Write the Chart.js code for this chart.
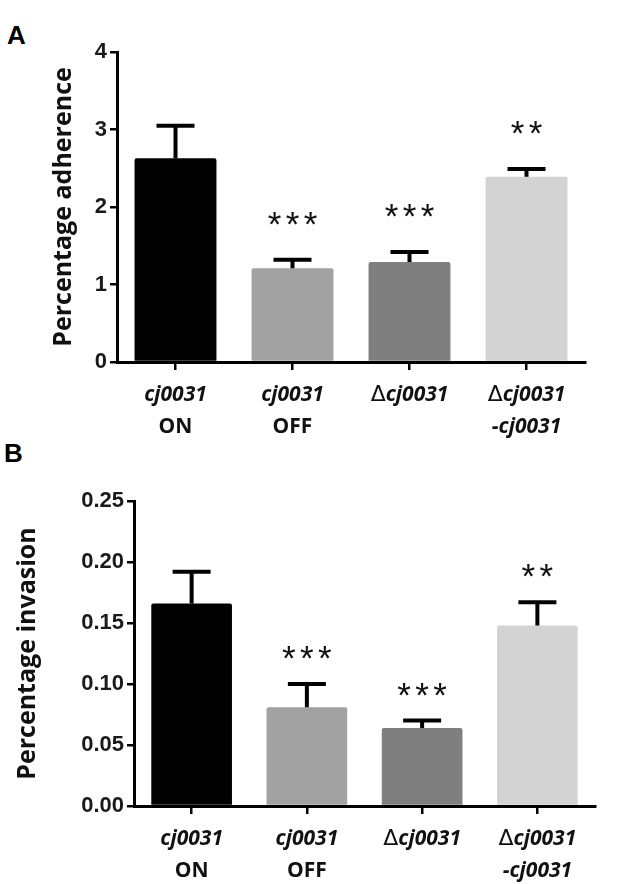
<!DOCTYPE html>
<html><head><meta charset="utf-8">
<script src="https://cdn.jsdelivr.net/npm/chart.js@4.4.1/dist/chart.umd.min.js"></script>
<style>
html,body{margin:0;padding:0;background:#fff;width:622px;height:884px;overflow:hidden;}
.wrap{position:absolute;left:0;width:622px;}
.letter{position:absolute;font:bold 26px 'Liberation Sans',Arial,sans-serif;color:#000;line-height:1;}
canvas{display:block;}
</style></head><body>
<div class="letter" style="left:7px;top:22px">A</div>
<div class="letter" style="left:4px;top:440px">B</div>
<div class="wrap" style="top:0;height:440px"><canvas id="cA" width="622" height="440" style="width:622px;height:440px"></canvas></div>
<div class="wrap" style="top:440px;height:444px"><canvas id="cB" width="622" height="444" style="width:622px;height:444px"></canvas></div>
<script>
// ---- data ----
const categories = ['cj0031 ON', 'cj0031 OFF', 'Δcj0031', 'Δcj0031 -cj0031'];
const labelLine1 = ['cj0031', 'cj0031', 'Δcj0031', 'Δcj0031'];
const labelLine2 = ['ON', 'OFF', '', '-cj0031'];
const adherenceMean = [2.63, 1.21, 1.29, 2.39];
const adherenceSEM = [0.42, 0.11, 0.13, 0.10];
const adherenceStars = ['', '***', '***', '**'];
const adherenceTicks = [0, 1, 2, 3, 4];
const invasionMean = [0.166, 0.081, 0.064, 0.148];
const invasionSEM = [0.026, 0.019, 0.006, 0.019];
const invasionStars = ['', '***', '***', '**'];
const invasionTicks = [0, 0.05, 0.10, 0.15, 0.20, 0.25];
const barColors = ['#000000', '#a2a2a2', '#7f7f7f', '#d3d3d3'];

const LABEL_FONT = "'Open Sans', 'Liberation Sans', sans-serif";

function drawSegLine(ctx, text, cx, baseline) {
  if (!text) return;
  const segs = [];
  let rest = text;
  if (rest.startsWith('Δ')) {
    segs.push({t: 'Δ', f: "normal 22px 'DejaVu Sans', sans-serif"});
    rest = rest.slice(1);
  }
  const italic = rest.indexOf('cj') >= 0;
  segs.push({t: rest, f: (italic ? 'italic ' : '') + 'bold 21px ' + LABEL_FONT});
  let total = 0;
  segs.forEach(s => { ctx.font = s.f; s.w = ctx.measureText(s.t).width; total += s.w; });
  let x = cx - total / 2;
  ctx.textAlign = 'left';
  ctx.textBaseline = 'alphabetic';
  segs.forEach(s => { ctx.font = s.f; ctx.fillText(s.t, x, baseline); x += s.w; });
}

function makeAnnot(means, sems, stars, starGap) {
  return {
    id: 'annot',
    afterDatasetsDraw(chart) {
      const ctx = chart.ctx, xs = chart.scales.x, ys = chart.scales.y;
      ctx.save();
      ctx.strokeStyle = '#000';
      ctx.lineWidth = 4;
      ctx.lineCap = 'butt';
      means.forEach((m, i) => {
        const cx = xs.getPixelForValue(i);
        const yBar = ys.getPixelForValue(m);
        const yTop = ys.getPixelForValue(m + sems[i]);
        ctx.beginPath();
        ctx.moveTo(cx, yBar); ctx.lineTo(cx, yTop);
        ctx.moveTo(cx - 19, yTop); ctx.lineTo(cx + 19, yTop);
        ctx.stroke();
        const s = stars[i];
        if (s) {
          ctx.fillStyle = '#111';
          ctx.font = "normal 35px 'Liberation Sans', sans-serif";
          ctx.textAlign = 'center';
          ctx.textBaseline = 'alphabetic';
          const n = s.length, sp = 18;
          const cyStar = yTop - starGap;
          for (let k = 0; k < n; k++) {
            const sx = cx + (k - (n - 1) / 2) * sp;
            ctx.fillText('*', sx, cyStar + 20);
          }
        }
      });
      // category labels
      ctx.fillStyle = '#111';
      const b = chart.chartArea.bottom;
      labelLine1.forEach((t, i) => {
        const cx = xs.getPixelForValue(i);
        drawSegLine(ctx, t, cx, b + 39);
        drawSegLine(ctx, labelLine2[i], cx, b + 71);
      });
      ctx.restore();
    }
  };
}

function makeChart(id, means, sems, stars, ticks, title, opts) {
  return new Chart(document.getElementById(id), {
    type: 'bar',
    data: {
      labels: categories,
      datasets: [{
        data: means,
        backgroundColor: barColors,
        borderWidth: 0,
        borderRadius: 2,
        barPercentage: 0.70,
        categoryPercentage: 1.0
      }]
    },
    options: {
      responsive: false,
      animation: false,
      events: [],
      layout: {padding: {left: 0, right: opts.right, top: opts.top, bottom: 0}},
      plugins: {legend: {display: false}, tooltip: {enabled: false}},
      scales: {
        x: {
          offset: true,
          grid: {offset: false, drawOnChartArea: false, drawTicks: true, tickLength: 8, color: '#000', lineWidth: 2.5},
          border: {display: true, color: '#000', width: 3},
          ticks: {display: false},
          afterFit(s) { s.height = opts.xh; }
        },
        y: {
          min: ticks[0],
          max: ticks[ticks.length - 1],
          afterBuildTicks(s) { s.ticks = ticks.map(v => ({value: v})); },
          grid: {drawOnChartArea: false, drawTicks: true, tickLength: 7, color: '#000', lineWidth: 2.5},
          border: {display: true, color: '#000', width: 3},
          ticks: {
            color: '#1a1a1a',
            padding: 3,
            font: {family: "'Liberation Sans', Arial, sans-serif", weight: 'bold', size: opts.tickSize},
            callback: v => opts.dec ? Number(v).toFixed(opts.dec) : String(v)
          },
          title: {
            display: true,
            text: title,
            color: '#111',
            font: {family: LABEL_FONT, weight: 'bold', size: 25},
            padding: {top: opts.titlePad, bottom: 0}
          },
          afterFit(s) { s.width = opts.yw; }
        }
      }
    },
    plugins: [makeAnnot(means, sems, stars, opts.starGap)]
  });
}

makeChart('cA', adherenceMean, adherenceSEM, adherenceStars, adherenceTicks, 'Percentage adherence',
  {right: 37, top: 52, xh: 78, yw: 117, tickSize: 22, dec: 0, titlePad: 49, starGap: 44});
makeChart('cB', invasionMean, invasionSEM, invasionStars, invasionTicks, 'Percentage invasion',
  {right: 27, top: 61, xh: 78, yw: 134, tickSize: 22, dec: 2, titlePad: 13, starGap: 34});
</script>
</body></html>
